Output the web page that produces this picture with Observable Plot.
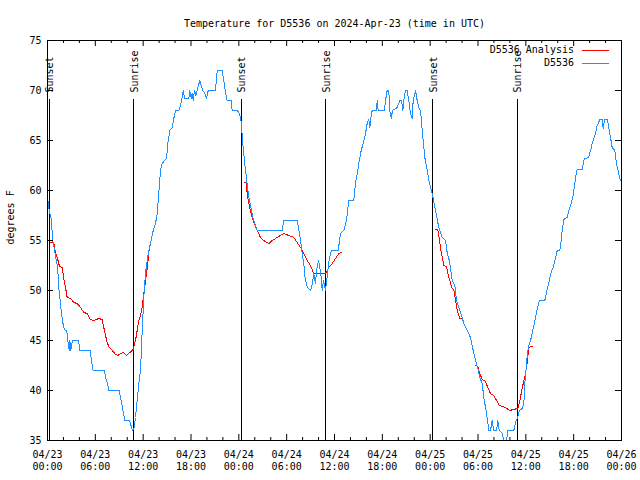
<!DOCTYPE html>
<html><head><meta charset="utf-8">
<script src="https://cdn.jsdelivr.net/npm/d3@7"></script>
<script src="https://cdn.jsdelivr.net/npm/@observablehq/plot@0.6"></script>
<style>body{margin:0;background:#fff}</style>
</head><body><div id="chart"></div>
<script>
const title = "Temperature for D5536 on 2024-Apr-23 (time in UTC)";
const yLabel = "degrees F";
const seriesNames = ["D5536 Analysis", "D5536"];
const seriesColors = ["#ff0000", "#1e90ff"];
const startDay = [2024, 3, 23];

// Observations: [hours since 04/23 00:00 UTC, degrees F]
const obs = [[0.04,59.1],[0.25,57.8],[0.46,57.2],[0.66,55],[1.00,53.5],[1.22,52.5],[1.34,51.5],[1.47,49.7],[1.59,49],[1.76,47.7],[1.92,46.8],[2.04,46.3],[2.22,46],[2.42,46],[2.55,45],[2.72,44],[2.80,45],[2.92,44],[3.01,44.5],[3.14,45],[3.89,45],[4.05,44],[5.36,44],[5.43,43.5],[5.56,42.7],[5.73,42],[7.15,42],[7.31,41.2],[7.53,40.7],[7.69,40],[8.99,40],[9.16,39.2],[9.32,38.7],[9.53,37.7],[9.70,37],[10.29,37],[10.41,36.7],[10.54,36.3],[10.66,36],[10.83,36.1],[11.04,37.3],[11.25,39],[11.45,40.7],[11.67,42],[11.88,46],[12.08,49.3],[12.29,51.7],[12.51,53],[12.71,54],[12.92,54.7],[13.13,55.5],[13.26,56],[13.55,56.7],[13.76,57.7],[13.96,59.7],[14.17,62],[14.39,62.7],[14.68,63],[14.93,63.2],[15.09,64.7],[15.34,66],[15.64,66.3],[15.84,67.2],[16.06,68],[16.47,68],[16.60,68.3],[16.90,69.3],[17.02,70],[17.22,69.2],[17.72,69.2],[17.85,70],[18.03,69.2],[18.15,69.7],[18.28,69],[18.44,70],[18.60,69.5],[18.78,70],[19.10,71],[19.28,70.5],[19.48,70],[19.73,69.7],[19.94,69.2],[20.16,70],[21.07,70],[21.29,72],[21.91,72],[22.11,71],[22.33,69.8],[22.54,69],[23.04,69],[23.17,68],[23.80,68],[24.00,67.8],[24.21,67.3],[24.34,66.5],[24.46,65],[24.62,63.7],[24.80,62.3],[24.96,61.3],[25.09,60.3],[25.25,59.3],[25.43,58.7],[25.59,58],[25.75,57.3],[26.00,56.7],[26.30,56],[29.48,56],[29.60,57],[31.32,57],[31.49,56.3],[31.74,55],[32.02,53.3],[32.15,52.7],[32.24,51.8],[32.36,51],[32.61,50.3],[32.95,50],[33.12,50.3],[33.28,51],[33.40,51.7],[33.62,50.7],[33.74,52],[33.99,53],[34.16,52.3],[34.28,51.7],[34.46,50],[34.62,51],[34.87,50],[35.03,51],[35.21,52.3],[35.37,53.3],[35.62,54],[36.47,54],[36.63,55],[36.75,55.7],[37.17,56],[37.51,57],[37.79,59],[38.42,59],[38.63,60.7],[38.85,61.7],[39.05,62.7],[39.35,64],[39.68,65],[39.89,65.7],[40.10,66.7],[40.30,67.1],[40.43,66.3],[40.55,67.2],[40.73,68],[41.27,68],[41.36,69],[41.48,68],[42.27,68],[42.40,69],[42.61,70],[42.81,70],[42.94,68],[43.11,67.2],[43.28,68],[43.87,68.3],[44.19,69],[44.41,69],[44.57,68],[44.69,69],[44.91,70],[45.12,70],[45.32,69],[45.53,67.7],[45.75,67.2],[45.87,69],[46.16,70],[46.37,69],[46.57,68.3],[46.79,68],[47.00,66],[47.33,63.3],[47.63,62],[47.92,60.7],[48.26,59.7],[48.67,58],[49.08,56.3],[49.51,55.3],[49.92,55],[50.13,53.8],[50.34,53.2],[50.55,52.3],[50.76,51],[51.09,50.5],[51.30,49],[51.72,48],[52.02,47.3],[52.22,46.7],[52.65,46],[53.06,45.3],[53.40,44],[53.69,43],[53.98,42.2],[54.23,41.3],[54.53,40.7],[54.73,39.3],[55.07,37.7],[55.36,36],[55.57,36],[55.78,37],[55.98,36],[56.32,36],[56.49,37],[56.66,36],[57.04,35.7],[57.24,35],[57.58,35],[57.74,36],[58.49,36],[58.71,36.8],[58.92,37.2],[59.21,38],[59.55,38.2],[59.75,38.7],[59.87,40.7],[60.09,42.7],[60.17,43.5],[60.37,44.5],[60.59,45],[60.80,45.7],[61.00,46.5],[61.21,47.2],[61.43,48.2],[61.72,49],[62.38,49],[62.59,49.8],[62.88,50.8],[63.18,51.8],[63.43,52.3],[63.72,53.2],[63.94,54],[64.26,54],[64.44,55],[64.56,56],[64.76,57.1],[65.19,57.3],[65.39,58],[65.69,58.7],[65.94,59.5],[66.11,60.5],[66.23,61.3],[66.44,62.1],[67.07,62.1],[67.20,62.7],[67.36,63.2],[67.90,63.3],[68.02,63.8],[68.20,64.2],[68.32,64.7],[68.53,65.2],[68.74,65.7],[68.87,66.3],[69.08,66.7],[69.28,67.1],[69.58,67.1],[69.71,66.2],[69.87,67.1],[70.21,67.1],[70.41,66.3],[70.62,65.3],[70.83,64.3],[71.16,64],[71.37,62.7],[71.59,62],[71.75,61.3],[71.88,61]];

// Analysis segments: [hours, degrees F]
const analysis1 = [[0.40,54.8],[0.79,54.8],[1.00,53.8],[1.22,53.3],[1.51,52.4],[1.84,52.3],[2.04,51.2],[2.26,50.3],[2.47,49.3],[2.89,49.2],[3.30,48.8],[3.73,48.7],[4.14,48.3],[4.55,47.8],[4.98,47.7],[5.39,47.1],[5.81,47],[6.44,47.2],[6.86,47.1],[7.06,46.3],[7.28,45.5],[7.49,44.8],[7.69,44.4],[8.12,44],[8.53,43.6],[8.82,43.5],[9.16,43.7],[9.57,43.8],[9.91,43.5],[10.32,43.8],[10.75,44.1],[11.04,45],[11.25,46],[11.45,47],[11.67,47.5],[11.88,48.3],[12.08,49.7],[12.26,50.7],[12.42,51.7],[12.58,52.7],[12.71,54],[12.83,54]];
const analysis2 = [[24.75,60.8],[24.92,60.8],[25.05,59.7],[25.25,58.7],[25.46,58],[25.68,57.3],[25.88,56.8],[26.30,56],[26.72,55.3],[27.13,55],[27.76,54.7],[28.19,55],[28.81,55.3],[29.64,55.7],[30.27,55.5],[30.90,55.3],[31.32,54.8],[31.74,54.3],[32.15,53.7],[32.58,53],[32.99,52.5],[33.33,51.8],[33.62,51.7],[34.87,51.7],[35.29,52.3],[35.71,52.7],[36.13,53.2],[36.54,53.7],[36.88,53.8]];
const analysis3 = [[48.67,56.1],[48.96,56.1],[49.17,55],[49.39,53.8],[49.59,53],[49.71,52.5],[50.05,52.4],[50.21,51.7],[50.46,51],[50.68,50.3],[50.97,50.1],[51.18,49],[51.39,48],[51.72,47.2],[52.02,47.2]];
const analysis4 = [[53.69,42.5],[53.98,42.4],[54.23,41.7],[54.53,41.1],[54.94,40.9],[55.23,40.3],[55.57,39.7],[55.98,39.5],[56.32,39],[56.70,38.5],[57.16,38.4],[57.58,38.2],[57.99,38],[58.42,38.1],[58.99,38.2],[59.21,38.8],[59.42,39.7],[59.67,40.7],[59.96,41.7],[60.17,42.8],[60.37,44.2],[60.59,44.4],[60.88,44.4]];

const sunHours = [0.2, 10.83, 24.3, 34.93, 48.34, 58.9];
const sunLabels = ["Sunset", "Sunrise", "Sunset", "Sunrise", "Sunset", "Sunrise"];
const xMajorHours = [0, 6, 12, 18, 24, 30, 36, 42, 48, 54, 60, 66, 72];
const xMinorHours = [2, 4, 8, 10, 14, 16, 20, 22, 26, 28, 32, 34, 38, 40, 44, 46, 50, 52, 56, 58, 62, 64, 68, 70];
const yTicks = [35, 40, 45, 50, 55, 60, 65, 70, 75];
const yDomain = [35, 75];

const t0 = Date.UTC(startDay[0], startDay[1], startDay[2]);
const toDate = h => new Date(t0 + h * 3600000);

const obsData = obs.map(([h, t]) => ({date: toDate(h), temp: t}));
const anaData = [analysis1, analysis2, analysis3, analysis4].flatMap((seg, k) =>
  seg.map(([h, t]) => ({date: toDate(h), temp: t, seg: k})));

const fmt = d3.utcFormat("%m/%d\n%H:%M");
const font = "'DejaVu Sans Mono', monospace";

const plot = Plot.plot({
  width: 640,
  height: 480,
  marginLeft: 47,
  marginRight: 19,
  marginTop: 40,
  marginBottom: 40,
  style: {fontFamily: font, fontSize: "10px", background: "white", color: "black"},
  x: {type: "utc", domain: [toDate(0), toDate(72)]},
  y: {domain: yDomain},
  marks: [
    Plot.ruleX(sunHours, {x: toDate, y1: yDomain[0], y2: 69.1, stroke: "black", shapeRendering: "crispEdges"}),
    Plot.text(sunHours, {x: toDate, y: 69.8, text: (d, i) => sunLabels[i], rotate: -90, textAnchor: "start", lineAnchor: "middle", dx: 1, fontSize: 10, fill: "black"}),
    Plot.line(anaData, {x: "date", y: "temp", z: "seg", stroke: seriesColors[0], strokeWidth: 1, shapeRendering: "crispEdges"}),
    Plot.line(obsData, {x: "date", y: "temp", stroke: seriesColors[1], strokeWidth: 1, shapeRendering: "crispEdges"}),
    Plot.ruleX(xMinorHours, {x: toDate, y1: 35, y2: 35.3, stroke: "black"}),
    Plot.ruleX(xMajorHours, {x: toDate, y1: 35, y2: 35.6, stroke: "black"}),
    Plot.ruleX(xMinorHours, {x: toDate, y1: 74.7, y2: 75, stroke: "black"}),
    Plot.ruleX(xMajorHours, {x: toDate, y1: 74.4, y2: 75, stroke: "black"}),
    Plot.ruleY(yTicks, {y: d => d, x1: toDate(0), x2: toDate(0.75), stroke: "black"}),
    Plot.ruleY(yTicks, {y: d => d, x1: toDate(71.25), x2: toDate(72), stroke: "black"}),
    Plot.frame({stroke: "black", shapeRendering: "crispEdges"}),
    Plot.axisX({ticks: xMajorHours.map(toDate), tickSize: 0, tickPadding: 9, tickFormat: d => fmt(d), label: null, fontSize: 10, lineHeight: 1.2}),
    Plot.axisY({ticks: yTicks, tickSize: 0, tickPadding: 6, label: null, fontSize: 10}),
    Plot.text([yLabel], {frameAnchor: "left", dx: -37, dy: 4, rotate: -90, fontSize: 10, fill: "black"}),
    Plot.text([title], {frameAnchor: "top", dy: -21, fontSize: 10, fill: "black"})
  ]
});

// Legend (top-right, inside the frame)
const svgSel = d3.select(plot);
const frameRight = 640 - 19, frameTop = 40;
const lg = svgSel.append("g").attr("font-size", 10).attr("font-family", font);
seriesNames.forEach((name, i) => {
  const ly = frameTop + 10 + 13 * i;
  lg.append("text").attr("x", frameRight - 47).attr("y", ly).attr("dy", "0.32em")
    .attr("text-anchor", "end").attr("fill", "black").text(name);
  lg.append("line").attr("x1", frameRight - 39).attr("x2", frameRight - 12)
    .attr("y1", ly + 0.5).attr("y2", ly + 0.5).attr("stroke", seriesColors[i]);
});

document.getElementById("chart").appendChild(plot);
</script>
</body></html>
